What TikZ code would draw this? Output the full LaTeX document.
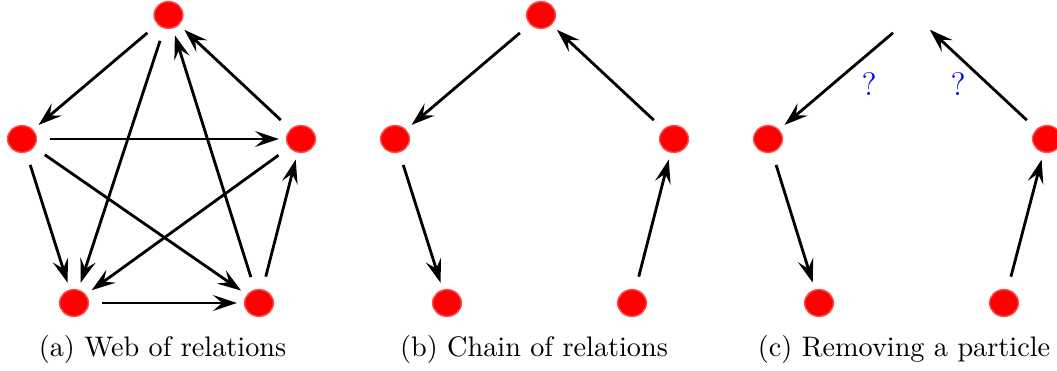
\documentclass[tikz,border=0pt]{standalone}
\usetikzlibrary{arrows.meta,shapes.geometric}
\begin{document}
\begin{tikzpicture}[x=0.354pt,y=-0.354pt,
  particle/.style={ellipse,fill=red,draw=red!70!white,line width=0.5pt,inner sep=0pt,
    minimum width=10.2pt,minimum height=9.5pt},
  ghost/.style={ellipse,inner sep=0pt,minimum width=10.2pt,minimum height=9.5pt},
  rel/.style={-{Stealth[length=8.4pt,width=5.6pt,inset=3.2pt]},line width=1pt,
    shorten <=4.6pt,shorten >=2.5pt},
  qmark/.style={text=blue,font=\fontsize{11.5}{13}\selectfont},
  caption/.style={anchor=base}]
\useasboundingbox (0,0) rectangle (1057,371);

% ---------- (a) web of relations ----------
\node[particle] (aT)  at (168.5,15) {};
\node[particle] (aL)  at (22,139) {};
\node[particle] (aR)  at (301,139) {};
\node[particle] (aBL) at (74,303) {};
\node[particle] (aBR) at (259,303) {};
\draw[rel] (aT) -- (aL);
\draw[rel] (aT) -- (aBL);
\draw[rel] (aBR) -- (aT);
\draw[rel] (aR) -- (aT);
\draw[rel] (aL) -- (aR);
\draw[rel] (aL) -- (aBR);
\draw[rel] (aL) -- (aBL);
\draw[rel] (aR) -- (aBL);
\draw[rel] (aBL) -- (aBR);
\draw[rel] (aBR) -- (aR);
\node[caption] (capa) at (162.5,357) {(a) Web of relations};

% ---------- (b) chain of relations ----------
\node[particle] (bT)  at (541,15) {};
\node[particle] (bL)  at (395,139) {};
\node[particle] (bR)  at (674,139) {};
\node[particle] (bBL) at (447,303) {};
\node[particle] (bBR) at (632,303) {};
\draw[rel] (bT) -- (bL);
\draw[rel] (bL) -- (bBL);
\draw[rel] (bBR) -- (bR);
\draw[rel] (bR) -- (bT);
\node[caption] (capb) at (534,357) {(b) Chain of relations};

% ---------- (c) removing a particle ----------
\node[ghost]    (cT)  at (914,15) {};
\node[particle] (cL)  at (768,139) {};
\node[particle] (cR)  at (1047,139) {};
\node[particle] (cBL) at (819,303) {};
\node[particle] (cBR) at (1004,303) {};
\draw[rel] (cT) -- (cL);
\draw[rel] (cL) -- (cBL);
\draw[rel] (cBR) -- (cR);
\draw[rel] (cR) -- (cT);
\node[qmark] (q1) at (869,84) {?};
\node[qmark] (q2) at (958,84) {?};
\node[caption] (capc) at (904,357) {(c) Removing a particle};
\end{tikzpicture}
\end{document}
